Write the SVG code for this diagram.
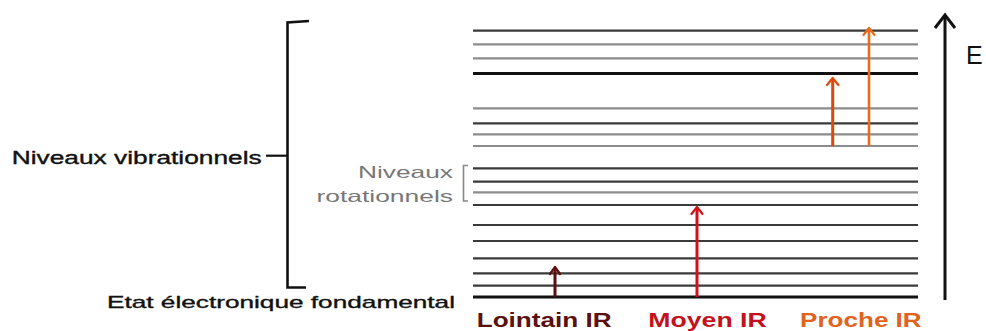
<svg xmlns="http://www.w3.org/2000/svg" width="986" height="331" viewBox="0 0 986 331">
<style>
.t{font-family:"Liberation Sans",Arial,sans-serif;}
.b{stroke:#111;stroke-width:0.35}
.lv{stroke-width:2.2;fill:none}
.d{stroke:#3a3a3a}
.g{stroke:#8c8c8c}
.k{stroke:#111;stroke-width:3}
.ah{fill:none;stroke-width:2.2;stroke-linecap:round;stroke-linejoin:round}
</style>
<rect width="986" height="331" fill="#fff"/>
<g id="levels">
<line class="lv d" x1="473" y1="30.7" x2="918" y2="30.7"/>
<line class="lv g" x1="473" y1="44.3" x2="918" y2="44.3"/>
<line class="lv g" x1="473" y1="58.3" x2="918" y2="58.3"/>
<line class="lv k" x1="473" y1="73.5" x2="918" y2="73.5"/>
<line class="lv g" x1="473" y1="108.3" x2="918" y2="108.3"/>
<line class="lv d" x1="473" y1="123.3" x2="918" y2="123.3"/>
<line class="lv g" x1="473" y1="134.3" x2="918" y2="134.3"/>
<line class="lv g" x1="473" y1="146" x2="918" y2="146"/>
<line class="lv d" x1="473" y1="168.3" x2="918" y2="168.3"/>
<line class="lv d" x1="473" y1="181.7" x2="918" y2="181.7"/>
<line class="lv g" x1="473" y1="192.3" x2="918" y2="192.3"/>
<line class="lv d" x1="473" y1="205" x2="918" y2="205" stroke="#111"/>
<line class="lv d" x1="473" y1="225" x2="918" y2="225"/>
<line class="lv d" x1="473" y1="241" x2="918" y2="241"/>
<line class="lv d" x1="473" y1="258.3" x2="918" y2="258.3"/>
<line class="lv d" x1="473" y1="273.3" x2="918" y2="273.3"/>
<line class="lv d" x1="473" y1="285.7" x2="918" y2="285.7"/>
<line class="lv k" x1="473" y1="297" x2="918" y2="297"/>
</g>
<g id="axis">
<line x1="945" y1="16" x2="945" y2="300" stroke="#111" stroke-width="3"/>
<polyline points="935,28 945,15 955,28" fill="none" stroke="#111" stroke-width="3" stroke-linejoin="miter"/>
<text class="t" x="966" y="64" font-size="25" fill="#111">E</text>
</g>
<g id="connectors">
<line x1="555" y1="297" x2="555" y2="268" stroke="#5a0f0f" stroke-width="3"/>
<polyline class="ah" points="550,274 555,267 560,274" stroke="#5a0f0f"/>
<line x1="697" y1="297" x2="697" y2="208" stroke="#d0101c" stroke-width="3"/>
<polyline class="ah" points="691.5,214 697,207 702.5,214" stroke="#d0101c"/>
<line x1="832.7" y1="146" x2="832.7" y2="79" stroke="#e0480a" stroke-width="3"/>
<polyline class="ah" points="827,85 832.7,78 838.4,85" stroke="#e0480a"/>
<line x1="869" y1="146" x2="869" y2="29" stroke="#e86a1a" stroke-width="2.6"/>
<polyline class="ah" points="863.5,35 869,28 874.5,35" stroke="#e86a1a"/>
</g>
<g id="vib-brace">
<path d="M309,21 L287.5,22.5 L287.5,287.5 L306,287.5" fill="none" stroke="#111" stroke-width="2.6"/>
<line x1="266" y1="155.7" x2="287.5" y2="155.7" stroke="#111" stroke-width="2.2"/>
<text class="t b" x="11.7" y="164.3" font-size="17.5" fill="#111" textLength="250" lengthAdjust="spacingAndGlyphs">Niveaux vibrationnels</text>
</g>
<g id="rot-bracket">
<path d="M468,165.5 L463.5,165.5 L463.5,201 L468,201" fill="none" stroke="#888" stroke-width="1.6"/>
<text class="t" x="453" y="178.3" font-size="16.5" fill="#777" text-anchor="end" textLength="95" lengthAdjust="spacingAndGlyphs">Niveaux</text>
<text class="t" x="453" y="201.5" font-size="16.5" fill="#777" text-anchor="end" textLength="136.5" lengthAdjust="spacingAndGlyphs">rotationnels</text>
</g>
<g id="ground">
<text class="t b" x="107" y="308.3" font-size="17" fill="#111" textLength="348" lengthAdjust="spacingAndGlyphs">Etat électronique fondamental</text>
</g>
<g id="labels">
<text class="t" x="476.7" y="327" font-size="19.5" font-weight="bold" fill="#5a1010" textLength="135" lengthAdjust="spacingAndGlyphs">Lointain IR</text>
<text class="t" x="648.3" y="327" font-size="19.5" font-weight="bold" fill="#c3121c" textLength="118.4" lengthAdjust="spacingAndGlyphs">Moyen IR</text>
<text class="t" x="800" y="327" font-size="19.5" font-weight="bold" fill="#e0641e" textLength="121.7" lengthAdjust="spacingAndGlyphs">Proche IR</text>
</g>
</svg>
